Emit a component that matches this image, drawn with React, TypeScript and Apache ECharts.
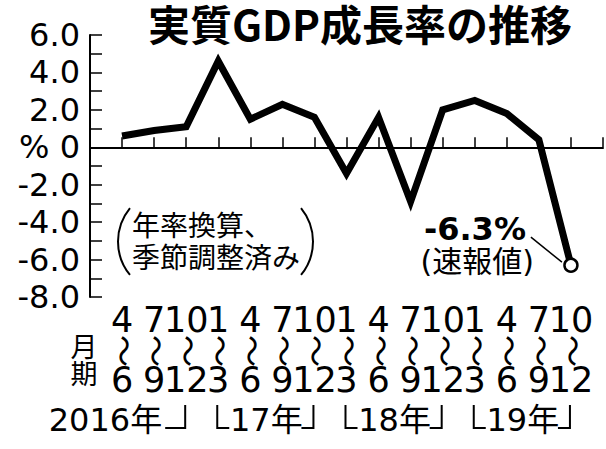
import React, { useEffect, useRef } from 'react';
import * as echarts from 'echarts';

// ---- data ----
const title = '実質GDP成長率の推移';
const quarterStart = ['4', '7', '10', '1', '4', '7', '10', '1', '4', '7', '10', '1', '4', '7', '10'];
const quarterEnd = ['6', '9', '12', '3', '6', '9', '12', '3', '6', '9', '12', '3', '6', '9', '12'];
const growth = [0.6, 0.9, 1.1, 4.6, 1.5, 2.3, 1.6, -1.4, 1.6, -2.9, 2.0, 2.5, 1.8, 0.4, -6.3];
const yearLabels = ['2016年', '17年', '18年', '19年'];
const yearFirstQuarter = [1, 4, 8, 12];
const yearLastQuarter = [3, 7, 11, 15];
const yMin = -8;
const yMax = 6;
const latestLabel = '-6.3%';
const latestNote = '(速報値)';
const noteLines = ['年率換算、', '季節調整済み'];
const periodLabel = ['月', '期'];
const rangeMark = '〜';

const CJK = "'Noto Sans CJK JP', sans-serif";
const LAT = "'DejaVu Sans', 'Noto Sans CJK JP', sans-serif";

export default function App() {
  const ref = useRef<HTMLDivElement>(null);
  useEffect(() => {
    const chart = echarts.init(ref.current!, null, { renderer: 'svg' });
    const n = growth.length;
    const seriesData = growth.map((v, i) =>
      i === n - 1
        ? {
            value: [i + 1, v],
            symbol: 'circle',
            symbolSize: 13,
            itemStyle: { color: '#fff', borderColor: '#000', borderWidth: 2.5 },
          }
        : { value: [i + 1, v] }
    );
    const isQuarter = (v: number) => {
      const i = Math.round(v);
      return Math.abs(v - i) < 1e-6 && i >= 1 && i <= n ? i : 0;
    };
    const baseX = {
      type: 'value',
      min: 0,
      max: n + 1,
      interval: 1,
      position: 'bottom',
      splitLine: { show: false },
    };
    chart.setOption({
      animation: false,
      title: {
        text: title,
        left: 148,
        top: 1,
        padding: 0,
        textStyle: { fontFamily: CJK, fontWeight: 'bold', fontSize: 42, lineHeight: 42, color: '#000' },
      },
      grid: { left: 90, right: -4, top: 35, bottom: 152, containLabel: false },
      xAxis: [
        {
          ...baseX,
          axisLine: { show: true, lineStyle: { color: '#000', width: 2 } },
          axisTick: { show: true, inside: true, length: 10, lineStyle: { color: '#000', width: 1.5 } },
          axisLabel: {
            margin: 8,
            color: '#000',
            formatter: (v: number) => {
              const i = isQuarter(v);
              if (!i) return '';
              return `{d|${quarterStart[i - 1]}}\n{d| }\n{d|${quarterEnd[i - 1]}}`;
            },
            rich: {
              d: { fontSize: 35, fontFamily: LAT, lineHeight: 30, color: '#000' },
            },
          },
        },
        {
          ...baseX,
          offset: 0,
          axisLine: { show: false },
          axisTick: { show: false },
          axisLabel: {
            rotate: 90,
            margin: 38,
            color: '#000',
            fontSize: 32,
            fontFamily: CJK,
            formatter: (v: number) => (isQuarter(v) ? rangeMark : ''),
          },
        },
      ],
      yAxis: {
        type: 'value',
        min: yMin,
        max: yMax,
        interval: 1,
        splitLine: { show: false },
        axisLine: { show: true, lineStyle: { color: '#000', width: 2 } },
        axisTick: { show: true, inside: true, length: 12, lineStyle: { color: '#000', width: 1.5 } },
        axisLabel: {
          margin: 10,
          color: '#000',
          fontSize: 32,
          fontFamily: LAT,
          formatter: (v: number) => {
            if (Math.round(v) % 2 !== 0) return '';
            if (v === 0) return '% 0';
            return v.toFixed(1);
          },
        },
      },
      series: [
        {
          type: 'line',
          data: seriesData,
          symbol: 'none',
          lineStyle: { color: '#000', width: 7, join: 'miter', cap: 'butt' },
          z: 5,
          markLine: {
            silent: true,
            symbol: ['none', 'none'],
            label: { show: false },
            lineStyle: { color: '#000', width: 1.5, type: 'solid' },
            data: [{ yAxis: 0 }],
            z: 1,
          },
        },
      ],
    });

    const px = (i: number, v: number) => chart.convertToPixel({ gridIndex: 0 }, [i, v]) as number[];
    const g: any[] = [];
    const bracketTop = 405;
    const bracketBottom = 428;
    const stroke = { stroke: '#000', lineWidth: 2, fill: 'none' };
    yearLabels.forEach((label, k) => {
      const xf = px(yearFirstQuarter[k], 0)[0] - 1;
      const xl = px(yearLastQuarter[k], 0)[0] - 1;
      if (k > 0) {
        g.push({
          type: 'polyline',
          shape: { points: [[xf, bracketTop], [xf, bracketBottom], [xf + 12, bracketBottom]] },
          style: stroke,
        });
      }
      const armR = k === 0 ? 20 : 12;
      g.push({
        type: 'polyline',
        shape: { points: [[xl, bracketTop], [xl, bracketBottom], [xl - armR, bracketBottom]] },
        style: stroke,
      });
      g.push({
        type: 'text',
        x: k === 0 ? xl - 23 : (xf + xl) / 2 + 1,
        y: 420,
        style: {
          text: label,
          fontSize: 32,
          fontFamily: LAT,
          fill: '#000',
          align: k === 0 ? 'right' : 'center',
          verticalAlign: 'middle',
        },
      });
    });
    g.push({
      type: 'text',
      x: 84,
      y: 359,
      style: {
        text: periodLabel.join('\n'),
        fontSize: 27,
        lineHeight: 27,
        fontFamily: CJK,
        fill: '#000',
        align: 'center',
        verticalAlign: 'middle',
      },
    });
    // note with tall parentheses
    const r = 52.8;
    const half = 0.687;
    const cy = 241.5;
    g.push({ type: 'arc', shape: { cx: 118 + r, cy, r, startAngle: Math.PI - half, endAngle: Math.PI + half, clockwise: true }, style: stroke });
    g.push({ type: 'arc', shape: { cx: 313 - r, cy, r, startAngle: -half, endAngle: half, clockwise: true }, style: stroke });
    g.push({
      type: 'text',
      x: 132,
      y: 240,
      style: {
        text: noteLines.join('\n'),
        fontSize: 28,
        lineHeight: 32,
        fontFamily: CJK,
        fill: '#000',
        align: 'left',
        verticalAlign: 'middle',
      },
    });
    // latest value annotation
    const p = px(n, growth[n - 1]);
    g.push({
      type: 'text',
      x: p[0] - 45,
      y: p[1] - 36.5,
      style: { text: latestLabel, fontSize: 32, fontWeight: 'bold', fontFamily: LAT, fill: '#000', align: 'right', verticalAlign: 'middle' },
    });
    g.push({
      type: 'text',
      x: p[0] - 37,
      y: p[1] - 3.5,
      style: { text: latestNote, fontSize: 30, fontFamily: LAT, fill: '#000', align: 'right', verticalAlign: 'middle' },
    });
    g.push({
      type: 'line',
      shape: { x1: p[0] - 40, y1: p[1] - 28, x2: p[0] - 9, y2: p[1] - 3 },
      style: { stroke: '#000', lineWidth: 1.5 },
    });
    chart.setOption({ graphic: g });
    return () => chart.dispose();
  }, []);
  return <div ref={ref} style={{ position: 'fixed', left: 0, top: 0, width: 606, height: 449, background: '#fff' }} />;
}
